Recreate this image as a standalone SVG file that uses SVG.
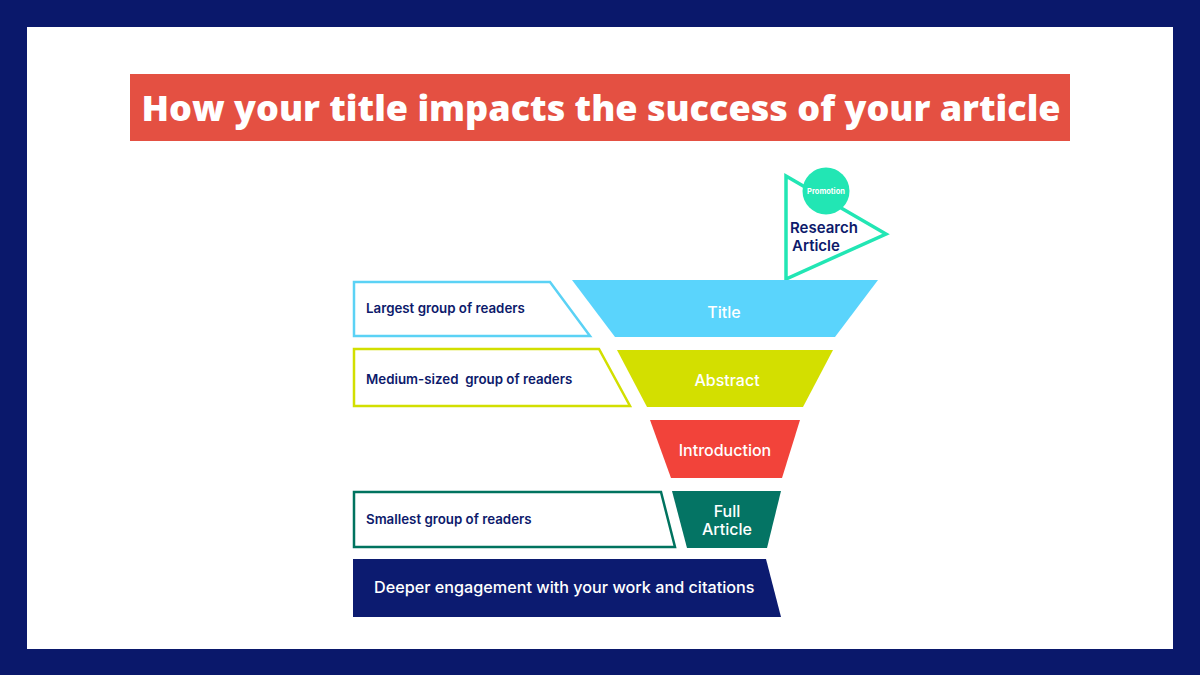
<svg xmlns="http://www.w3.org/2000/svg" width="1200" height="675" viewBox="0 0 1200 675">
<style>
.lbl{font-family:Inter,"Open Sans","Liberation Sans",sans-serif;font-weight:600;font-size:13.3px;fill:#0d1a6b}
.wl{font-family:Inter,"Open Sans","Liberation Sans",sans-serif;font-weight:500;font-size:16px;fill:#ffffff;text-anchor:middle}
.box{fill:#ffffff;stroke-width:2.5}
</style>
<rect x="0" y="0" width="1200" height="675" fill="#0a186b"/>
<rect x="27" y="27" width="1146" height="622" fill="#ffffff"/>
<g id="header">
<rect x="130" y="74" width="940" height="67" fill="#e45042"/>
<text x="601" y="121" text-anchor="middle" font-family="'Open Sans','Liberation Sans',sans-serif" font-weight="800" font-size="36" fill="#ffffff">How your title impacts the success of your article</text>
</g>
<g id="flag">
<polygon points="786,176 886,234 786,279" fill="none" stroke="#22e6b4" stroke-width="3.5" stroke-linejoin="miter"/>
<circle cx="826" cy="191" r="23.5" fill="#22e6b4"/>
<text x="826" y="194" text-anchor="middle" font-family="Inter,'Open Sans',sans-serif" font-weight="700" font-size="7.5" fill="#ffffff">Promotion</text>
<text x="790" y="233" font-family="Inter,'Open Sans',sans-serif" font-weight="600" font-size="15" fill="#0d1a6b">Research</text>
<text x="792" y="251" font-family="Inter,'Open Sans',sans-serif" font-weight="600" font-size="15" fill="#0d1a6b">Article</text>
</g>
<g id="title-stage">
<polygon points="572,280 878,280 835,337 615,337" fill="#5ad4fc"/>
<text class="wl" x="724" y="318">Title</text>
</g>
<g id="abstract-stage">
<polygon points="617,350 833,350 803,407 647,407" fill="#d3df00"/>
<text class="wl" x="727" y="386">Abstract</text>
</g>
<g id="introduction-stage">
<polygon points="650,420 800,420 782,478 671,478" fill="#f2433a"/>
<text class="wl" x="725" y="456">Introduction</text>
</g>
<g id="full-article-stage">
<polygon points="672,491 781,491 767,548 687,548" fill="#047464"/>
<text class="wl" x="727" y="517">Full</text>
<text class="wl" x="727" y="535">Article</text>
</g>
<g id="largest">
<polygon class="box" points="354,282 550,282 590,336 354,336" stroke="#5bd2f5"/>
<text class="lbl" x="366" y="313">Largest group of readers</text>
</g>
<g id="medium">
<polygon class="box" points="354,349 599,349 630,406 354,406" stroke="#d2df00"/>
<text class="lbl" x="366" y="384" xml:space="preserve">Medium-sized  group of readers</text>
</g>
<g id="smallest">
<polygon class="box" points="354,492 661,492 675,547 354,547" stroke="#00735f"/>
<text class="lbl" x="366" y="524">Smallest group of readers</text>
</g>
<g id="deeper">
<polygon points="353,559 766,559 781,617 353,617" fill="#0c1b70"/>
<text x="374" y="593" font-family="Inter,'Open Sans',sans-serif" font-weight="500" font-size="16.2" fill="#ffffff">Deeper engagement with your work and citations</text>
</g>
<g id="connectors"></g>
</svg>
